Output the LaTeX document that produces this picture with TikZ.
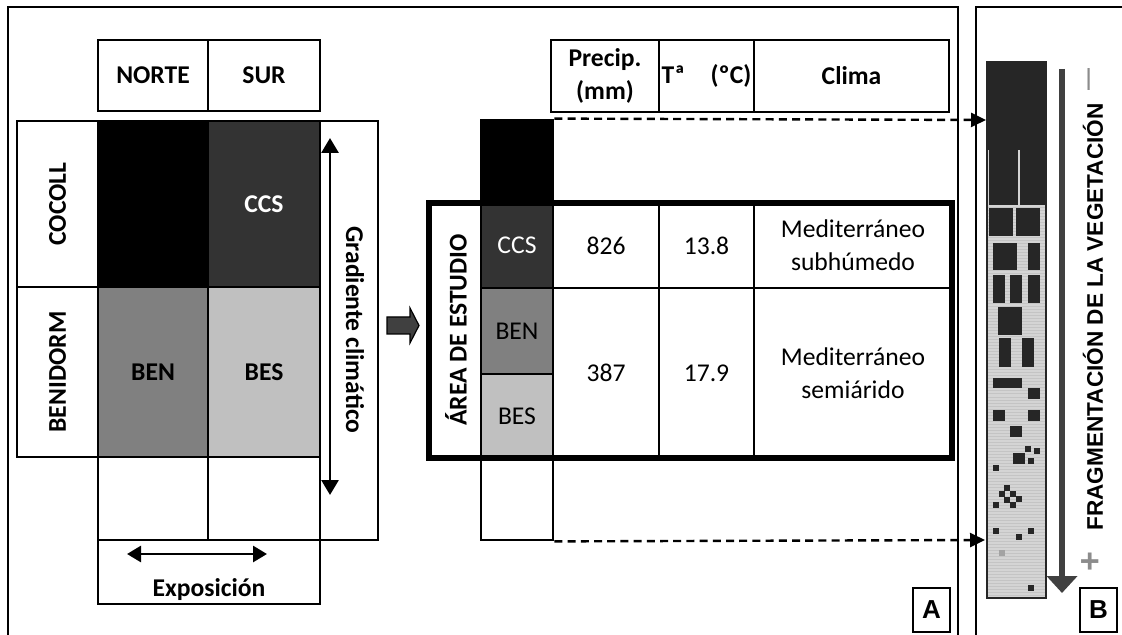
\documentclass[tikz,border=0pt]{standalone}
\usepackage{fontspec}
\setmainfont{Carlito}
\newfontfamily\arialfont{Liberation Sans}
\usetikzlibrary{arrows.meta}

\definecolor{darkcell}{HTML}{333333}
\definecolor{midcell}{HTML}{808080}
\definecolor{lightcell}{HTML}{C0C0C0}
\definecolor{stripdark}{HTML}{262626}
\definecolor{stripback}{HTML}{D4D4D4}
\definecolor{stripline}{HTML}{C4C4C4}
\definecolor{arrowgray}{HTML}{404040}
\definecolor{signgray}{HTML}{8C8C8C}

\tikzset{
  box/.style 2 args={minimum width=#1*0.5pt, minimum height=#2*0.5pt},
  lab/.style={inner sep=0pt, align=center, font=\fontsize{12.8}{16.5}\selectfont},
  blab/.style={lab, font=\fontsize{12.8}{16.5}\selectfont\bfseries},
  cell/.style={lab, draw, line width=1.4pt},
  hcell/.style={blab, draw, line width=1.4pt},
  tip/.style={-{Triangle[width=7pt,length=7.5pt]}},
  sans/.style={inner sep=0pt, font=\arialfont\bfseries\fontsize{#1}{#1}\selectfont},
}

\begin{document}
\begin{tikzpicture}[x=0.5pt, y=-0.5pt]
  \useasboundingbox (0,0) rectangle (1122,635);
  % panel frames
  \draw[line width=1.4pt] (8,635) |- (958,7) -- (958,635);
  \draw[line width=1.4pt] (976,635) |- (1122,7);

  % left grid
  \node[hcell, box={110}{71}] (norte) at (153,75.5) {NORTE};
  \node[hcell, box={112}{71}] (sur) at (264,75.5) {SUR};
  \draw[line width=1.4pt] (17,121) -| (378,540) -- (98,540);
  \node[hcell, rotate=90, box={166}{81}] (cocoll) at (57.5,204) {COCOLL};
  \node[hcell, rotate=90, box={170}{81}] (benidorm) at (57.5,372) {BENIDORM};
  \node[cell, fill=black, box={110}{166}] (ccn) at (153,204) {};
  \node[hcell, fill=darkcell, text=white, box={112}{166}] (ccs) at (264,204) {CCS};
  \node[hcell, fill=midcell, box={110}{170}] (ben) at (153,372) {BEN};
  \node[hcell, fill=lightcell, box={112}{170}] (bes) at (264,372) {BES};
  \node[cell, box={110}{83}] (bn) at (153,498.5) {};
  \node[cell, box={112}{83}] (bs) at (264,498.5) {};
  \node[cell, box={222}{64}] (expo) at (209,572) {};
  \node[blab] (expolab) at (209,590) {Exposición};
  \coordinate (eleft) at (127,554);
  \coordinate (eright) at (267,554);
  \draw[{Triangle[width=8pt,length=7pt]}-{Triangle[width=8pt,length=7pt]}, line width=1.4pt] (eleft) -- (eright);
  \coordinate (gtop) at (330,138);
  \coordinate (gbot) at (330,495);
  \draw[{Triangle[width=8.5pt,length=7.5pt]}-{Triangle[width=8.5pt,length=7.5pt]}, line width=1.4pt] (gtop) -- (gbot);
  \node[blab, rotate=-90] (grad) at (355,330) {Gradiente climático};

  % block arrow
  \filldraw[fill=arrowgray, draw=black, line width=0.6pt]
    (387,317) -- (410,317) -- (410,308) -- (419,325.5) -- (410,343) -- (410,334) -- (387,334) -- cycle;

  % study area table
  \node[hcell, box={108}{72}] (precip) at (605,76) {Precip.\\(mm)};
  \node[hcell, box={95}{72}] (temp) at (706.5,76) {Tª\quad(ºC)};
  \node[hcell, box={195}{72}] (clima) at (851.5,76) {Clima};
  \node[cell, fill=black, box={72}{83}] (topcell) at (517,161.5) {};
  \node[cell, fill=darkcell, text=white, box={72}{85}] (ccs2) at (517,245.5) {CCS};
  \node[cell, fill=midcell, box={72}{86}] (ben2) at (517,331) {BEN};
  \node[cell, fill=lightcell, box={72}{84}] (bes2) at (517,416) {BES};
  \node[cell, box={72}{82}] (empty2) at (517,499) {};
  \node[cell, box={106}{85}] (p1) at (606,245.5) {826};
  \node[cell, box={95}{85}] (t1) at (706.5,245.5) {13.8};
  \node[cell, box={198}{85}] (c1) at (853,245.5) {Mediterráneo\\subhúmedo};
  \node[cell, box={106}{170}] (p2) at (606,373) {387};
  \node[cell, box={95}{170}] (t2) at (706.5,373) {17.9};
  \node[cell, box={198}{170}] (c2) at (853,373) {Mediterráneo\\semiárido};
  \node[draw, line width=2.6pt, box={523}{255}] (area) at (690.5,330.5) {};
  \node[blab, rotate=90] (arealab) at (456,330) {ÁREA DE ESTUDIO};

  % links to panel B
  \coordinate (dtop) at (986,120);
  \coordinate (dbot) at (985,540);
  \draw[tip, line width=1.2pt, dash pattern=on 4pt off 2.6pt] (topcell.north east) -- (dtop);
  \draw[tip, line width=1.2pt, dash pattern=on 4pt off 2.6pt] (empty2.south east) -- (dbot);

  % fragmentation strip
  \node[draw=stripdark, fill=stripback, line width=0.6pt, box={59}{536}] (strip) at (1016.5,330) {};
  \foreach \y in {208,211,...,596}
    \draw[stripline, line width=0.5pt] (988,\y) -- (1045,\y);
  \fill[stripdark] (987,62) rectangle (1046,205);
  \draw[stripback, line width=0.7pt] (988.5,150) -- (988.5,205.5) -- (1044,205.5);
  \draw[stripback, line width=0.7pt] (1019,150) -- (1019,205.5);
  \foreach \xa/\ya/\xb/\yb in {989/208/1013/236, 1016/208/1040/236,
      993/243/1017/270, 1028/243/1040/270,
      993/275/1005/303, 1010/275/1022/303, 1028/275/1040/303,
      998/307/1022/335, 999/338/1011/367, 1022/338/1034/367,
      993/378/1022/388, 1028/388/1040/399,
      993/410/1005/421, 1028/410/1040/421, 1010/426/1022/437,
      1025/446/1031/452, 1034/448/1040/454, 1013/453/1025/464, 1028/458/1034/464,
      993/465/999/471,
      1004/485/1010/491, 999/491/1005/497, 1010/491/1016/497,
      1004/497/1010/503, 1016/496/1022/502, 993/502/999/508, 1010/502/1016/508,
      993/528/999/534, 1028/528/1034/534, 1016/534/1022/540, 1028/585/1034/591}
    \fill[stripdark] (\xa,\ya) rectangle (\xb,\yb);
  \fill[signgray!80] (999,550) rectangle (1005,556);
  \coordinate (fragtop) at (1062,69);
  \coordinate (fragbot) at (1062,593);
  \draw[arrowgray, line width=3pt, -{Triangle[width=15pt,length=8.5pt]}] (fragtop) -- (fragbot);
  \node[sans=11.3, rotate=90] (fraglab) at (1093,317) {FRAGMENTACIÓN DE LA VEGETACIÓN};
  \node[sans=11, signgray, rotate=90] (minus) at (1091,80) {—};
  \node[sans=17, signgray, rotate=90] (plus) at (1092,562) {+};

  % panel letters
  \node[draw, line width=1.2pt, box={37}{44}, sans=13] (labA) at (931.5,610) {A};
  \node[draw, line width=1.2pt, box={37}{44}, sans=13] (labB) at (1098.5,610) {B};
\end{tikzpicture}
\end{document}
